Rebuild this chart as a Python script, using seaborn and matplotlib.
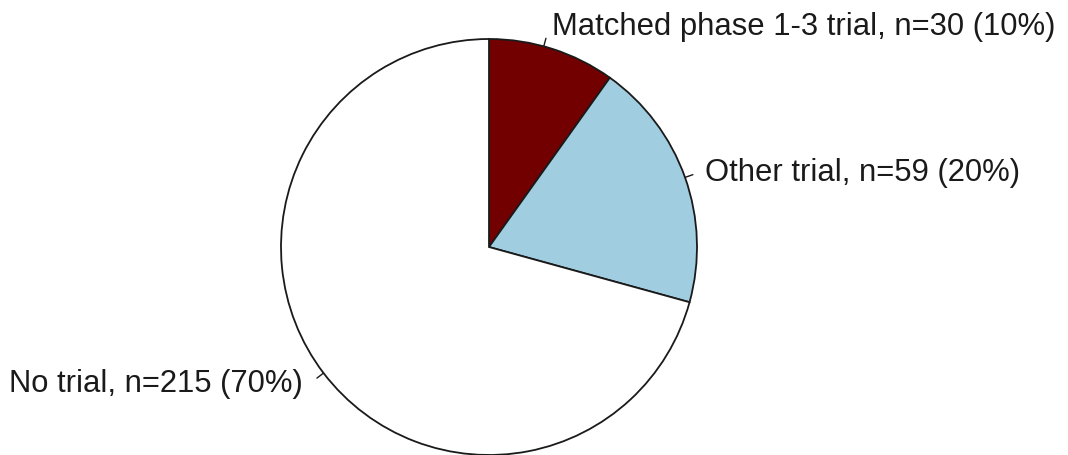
import numpy as np
import matplotlib
matplotlib.use("Agg")
import matplotlib.pyplot as plt
import seaborn as sns

# Trial participation counts
categories = ["Matched phase 1-3 trial", "Other trial", "No trial"]
counts = [30, 59, 215]
percent_labels = ["10%", "20%", "70%"]
colors = ["#730000", "#a0cde0", "#ffffff"]

sns.set_theme(style="white")
plt.rcParams["font.family"] = ["Liberation Sans", "DejaVu Sans"]

fig = plt.figure(figsize=(10.68, 4.55), dpi=100)
ax = fig.add_axes([0, 0, 1, 1])

wedges, _ = ax.pie(
    counts,
    colors=colors,
    startangle=90,
    counterclock=False,
    radius=1.0,
    wedgeprops=dict(edgecolor="#1a1a1a", linewidth=1.3),
)

ax.set_xlim(-489 / 208, (1068 - 489) / 208)
ax.set_ylim(-1.0, 247 / 208)
ax.set_aspect("auto")
ax.axis("off")

# label placement: (tick angle offset, text offset x, text offset y, ha)
label_style = [
    (2.5, 0.03, 0.055, "left"),
    (0.0, 0.06, 0.01, "left"),
    (0.0, -0.07, -0.03, "right"),
]

for w, cat, n, pct, (dang, dx, dy, ha) in zip(wedges, categories, counts, percent_labels, label_style):
    mid = np.deg2rad((w.theta1 + w.theta2) / 2 + dang)
    x0, y0 = np.cos(mid), np.sin(mid)
    x1, y1 = 1.04 * np.cos(mid), 1.04 * np.sin(mid)
    ax.plot([x0, x1], [y0, y1], color="#1a1a1a", lw=1.0)
    ax.text(x1 + dx, y1 + dy, f"{cat}, n={n} ({pct})", ha=ha, va="center",
            fontsize=22.3, color="#1a1a1a")

fig.savefig("out.png", dpi=100, facecolor="white")
